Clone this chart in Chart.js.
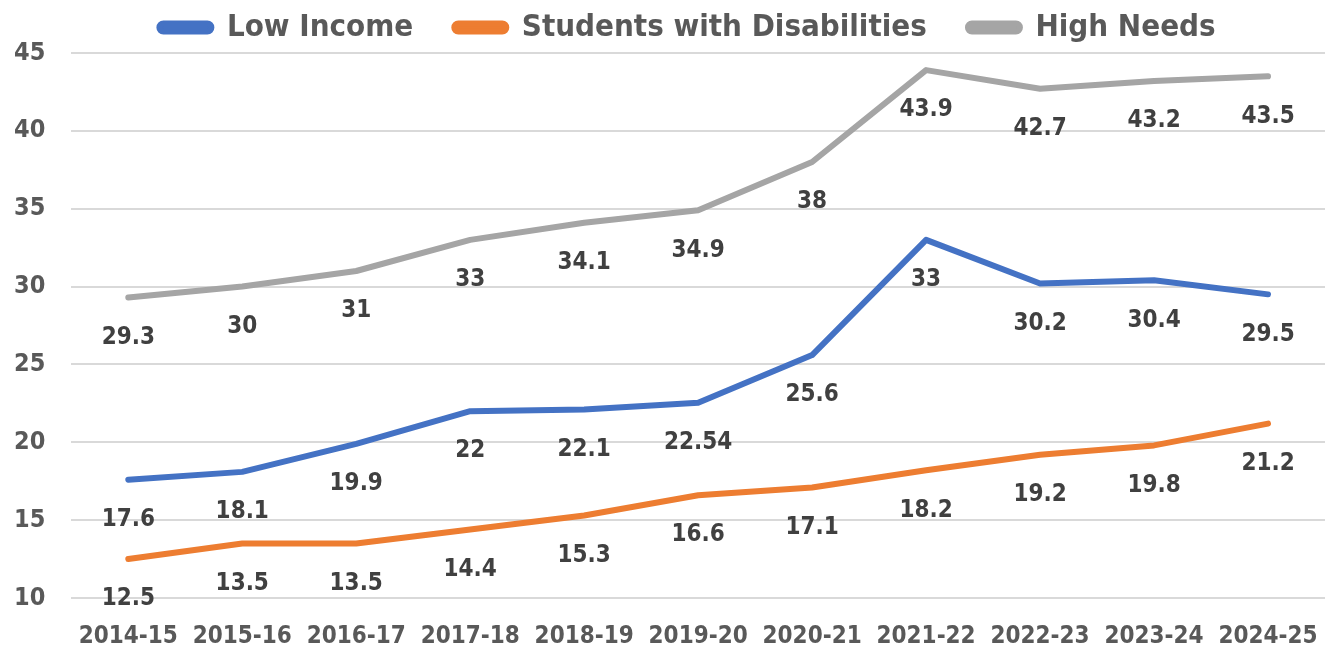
<!DOCTYPE html>
<html>
<head>
<meta charset="utf-8">
<script src="https://cdn.jsdelivr.net/npm/chart.js@4"></script>
<style>
  html, body { margin: 0; padding: 0; background: #fff; }
  #wrap { width: 1327px; height: 649px; }
</style>
</head>
<body>
<div id="wrap"><canvas id="grafico"></canvas></div>
<script>
const anos = ['2014-15', '2015-16', '2016-17', '2017-18', '2018-19', '2019-20', '2020-21', '2021-22', '2022-23', '2023-24', '2024-25'];
const lowIncome = [17.6, 18.1, 19.9, 22, 22.1, 22.54, 25.6, 33, 30.2, 30.4, 29.5];
const disabilities = [12.5, 13.5, 13.5, 14.4, 15.3, 16.6, 17.1, 18.2, 19.2, 19.8, 21.2];
const highNeeds = [29.3, 30, 31, 33, 34.1, 34.9, 38, 43.9, 42.7, 43.2, 43.5];

const fonte = "'DejaVu Sans Condensed', 'Liberation Sans Narrow', sans-serif";
const cinza = '#595959';

// rotulos abaixo de cada ponto
const rotulos = {
  id: 'rotulos',
  afterDatasetsDraw(chart) {
    const ctx = chart.ctx;
    ctx.save();
    ctx.font = 'bold 24px ' + fonte;
    ctx.fillStyle = '#404040';
    ctx.textAlign = 'center';
    ctx.textBaseline = 'middle';
    chart.data.datasets.forEach((ds, i) => {
      chart.getDatasetMeta(i).data.forEach((pt, j) => {
        ctx.fillText(String(ds.data[j]), pt.x, pt.y + 40);
      });
    });
    ctx.restore();
  }
};

// legenda um pouco deslocada para a direita, como no original
const moveLegenda = {
  id: 'moveLegenda',
  afterLayout(chart) {
    chart.legend.left += 31;
    chart.legend.right += 31;
  }
};

new Chart(document.querySelector('#grafico').getContext('2d'), {
  type: 'line',
  data: {
    labels: anos,
    datasets: [
      { label: 'Low Income', data: lowIncome, borderColor: '#4472C4', backgroundColor: '#4472C4' },
      { label: 'Students with Disabilities', data: disabilities, borderColor: '#ED7D31', backgroundColor: '#ED7D31' },
      { label: 'High Needs', data: highNeeds, borderColor: '#A5A5A5', backgroundColor: '#A5A5A5' }
    ]
  },
  options: {
    responsive: true,
    maintainAspectRatio: false,
    animation: false,
    layout: { padding: { left: -12, right: 2, top: 0, bottom: 0 } },
    elements: {
      line: { borderWidth: 6, tension: 0, borderCapStyle: 'round', borderJoinStyle: 'round' },
      point: { radius: 0, hoverRadius: 0 }
    },
    plugins: {
      legend: {
        position: 'top',
        labels: {
          color: cinza,
          font: { family: fonte, size: 31, weight: 'bold' },
          boxWidth: 52,
          boxHeight: 8,
          useBorderRadius: true,
          borderRadius: 4,
          padding: 12,
          // mais espaco entre os itens
          generateLabels(chart) {
            const itens = Chart.defaults.plugins.legend.labels.generateLabels(chart);
            itens.forEach((it, i) => { if (i < itens.length - 1) it.text = it.text + '   '; });
            return itens;
          }
        }
      },
      tooltip: { enabled: false }
    },
    scales: {
      x: {
        offset: true,
        grid: { display: false, drawTicks: true, tickLength: 20 },
        border: { display: false },
        ticks: { color: cinza, font: { family: fonte, size: 24, weight: 'bold' }, maxRotation: 0, padding: 4 },
        // altura fixa do eixo x para o grafico terminar na mesma linha do original
        afterFit(scale) { scale.height = 51; }
      },
      y: {
        min: 10,
        max: 45,
        ticks: { stepSize: 5, color: cinza, font: { family: fonte, size: 25, weight: 'bold' }, padding: 26 },
        grid: { color: '#d9d9d9', lineWidth: 2, drawTicks: false },
        border: { display: false }
      }
    }
  },
  plugins: [rotulos, moveLegenda]
});
</script>
</body>
</html>
